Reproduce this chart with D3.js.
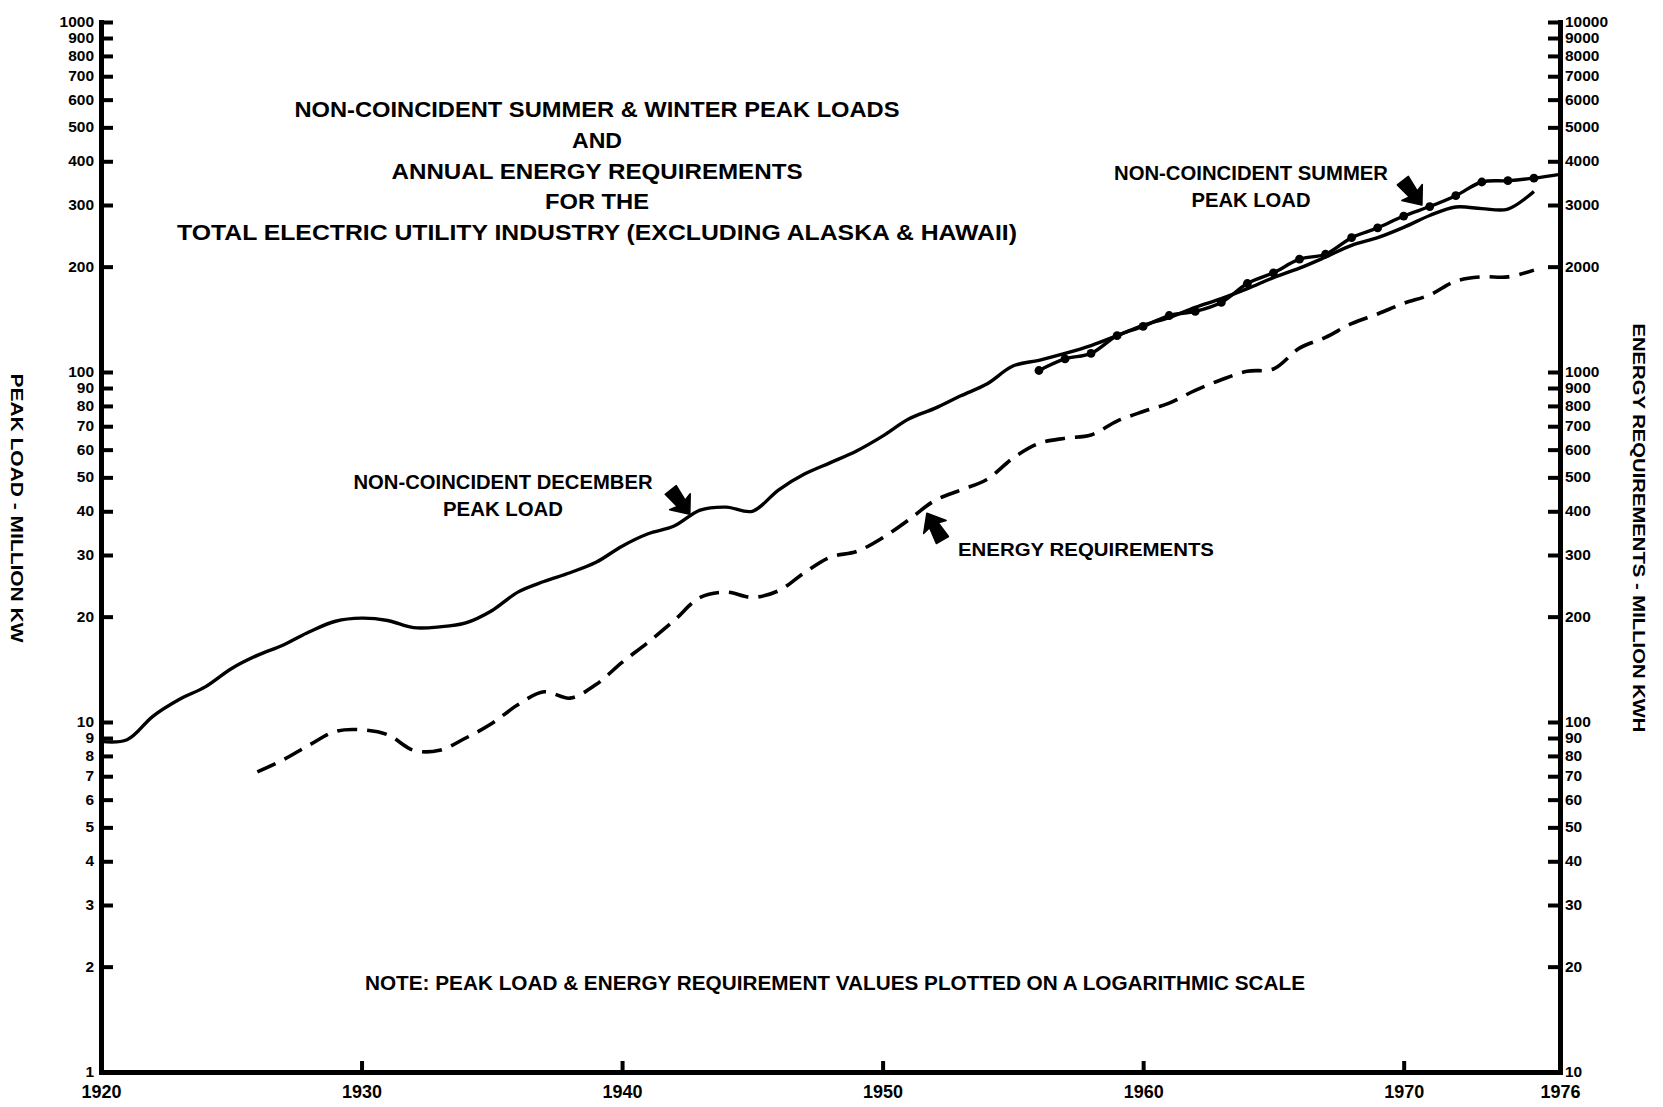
<!DOCTYPE html>
<html>
<head>
<meta charset="utf-8">
<script src="https://cdn.jsdelivr.net/npm/d3@7"></script>
<style>
  body { margin: 0; background: #fff; }
  svg text { font-family: "Liberation Sans", Arial, Helvetica, sans-serif; font-weight: bold; fill: #000; }
</style>
</head>
<body>
<svg id="chart" width="1663" height="1107"></svg>
<script>
// Non-coincident December peak load, million kW (left scale)
const decemberYears = [1920,1921,1922,1923,1924,1925,1926,1927,1928,1929,1930,1931,1932,1933,1934,1935,1936,1937,1938,1939,
  1940,1941,1942,1943,1944,1945,1946,1947,1948,1949,1950,1951,1952,1953,1954,1955,1956,1957,1958,1959,
  1960,1961,1962,1963,1964,1965,1966,1967,1968,1969,1970,1971,1972,1973,1974,1975];
const decemberPeak = [8.8,8.9,10.4,11.6,12.6,14.2,15.5,16.6,18.1,19.4,19.8,19.5,18.6,18.7,19.2,20.8,23.5,25.2,26.7,28.6,
  31.8,34.5,36.3,40.3,41.1,40.0,46.0,51.1,55.1,59.5,65.6,73.4,78.7,85.5,92.4,104,108,113,119,127,
  136,143,153,162,173,186,198,213,230,242,259,280,296,293,292,328];

// Non-coincident summer peak load, million kW (left scale), plotted with yearly dots
const summerYears = [1956,1957,1958,1959,1960,1961,1962,1963,1964,1965,1966,1967,1968,1969,1970,1971,1972,1973,1974,1975,1976];
const summerPeak = [101,109,113,127,135,145,149,158,179,192,210,217,242,258,279,297,319,349,352,358,367];

// Annual energy requirements (right scale)
const energyYears = [1926,1927,1928,1929,1930,1931,1932,1933,1934,1935,1936,1937,1938,1939,
  1940,1941,1942,1943,1944,1945,1946,1947,1948,1949,1950,1951,1952,1953,1954,1955,1956,1957,1958,1959,
  1960,1961,1962,1963,1964,1965,1966,1967,1968,1969,1970,1971,1972,1973,1974,1975];
const energyReq = [72,78,86,94,95,92,83,83,90,99,112,122,117,128,
  148,169,195,227,235,227,237,267,296,307,336,378,429,460,493,567,625,647,661,724,
  771,815,886,950,1005,1020,1170,1256,1375,1465,1571,1661,1818,1870,1870,1955];

// Axis tick values and labels
const xTickYears = [1920,1930,1940,1950,1960,1970,1976];
const leftTicks = [1,2,3,4,5,6,7,8,9,10,20,30,40,50,60,70,80,90,100,200,300,400,500,600,700,800,900,1000];
const rightTicks = [10,20,30,40,50,60,70,80,90,100,200,300,400,500,600,700,800,900,1000,2000,3000,4000,5000,6000,7000,8000,9000,10000];

const titleLines = [
  "NON-COINCIDENT SUMMER & WINTER PEAK LOADS",
  "AND",
  "ANNUAL ENERGY REQUIREMENTS",
  "FOR THE",
  "TOTAL ELECTRIC UTILITY INDUSTRY (EXCLUDING ALASKA & HAWAII)"
];
const titleWidths = [605, 50, 411, 104, 840];

const svg = d3.select("#chart");

const x = d3.scaleLinear().domain([1920, 1976]).range([101, 1560]);
const yL = d3.scaleLog().domain([1, 1000]).range([1072, 22]);
const yR = d3.scaleLog().domain([10, 10000]).range([1072, 22]);

// ---- axes ----
const fmt = d3.format("d");
const leftAxis = svg.append("g").attr("transform", `translate(${x(1920)},0)`)
  .call(d3.axisLeft(yL).tickValues(leftTicks).tickFormat(fmt).tickSizeInner(-12).tickSizeOuter(0).tickPadding(7));
const rightAxis = svg.append("g").attr("transform", `translate(${x(1976)},0)`)
  .call(d3.axisRight(yR).tickValues(rightTicks).tickFormat(fmt).tickSizeInner(-12).tickSizeOuter(0).tickPadding(5));
const bottomAxis = svg.append("g").attr("transform", `translate(0,${yL(1)})`)
  .call(d3.axisBottom(x).tickValues(xTickYears).tickFormat(fmt).tickSizeInner(-11).tickSizeOuter(0).tickPadding(13));

[leftAxis, rightAxis, bottomAxis].forEach(g => {
  g.select(".domain").attr("stroke", "#000").attr("stroke-width", 5).attr("stroke-linecap", "square");
  g.selectAll(".tick line").attr("stroke", "#000").attr("stroke-width", 4);
  g.selectAll(".tick text").attr("font-family", null).attr("font-size", 14)
    .attr("textLength", d => String(d).length * 8.6).attr("lengthAdjust", "spacingAndGlyphs");
});
bottomAxis.selectAll(".tick text").attr("font-size", 19).attr("textLength", 40);
// the corner ticks sit on the vertical axes
bottomAxis.selectAll(".tick").filter(d => d === 1920 || d === 1976).select("line").remove();
leftAxis.selectAll(".tick").filter(d => d === 1).select("line").remove();
rightAxis.selectAll(".tick").filter(d => d === 10).select("line").remove();

// ---- series ----
const lineL = d3.line().x(d => x(d[0])).y(d => yL(d[1])).curve(d3.curveCatmullRom.alpha(0.5));
const lineR = d3.line().x(d => x(d[0])).y(d => yR(d[1])).curve(d3.curveCatmullRom.alpha(0.5));

const dec = d3.zip(decemberYears, decemberPeak);
const sum = d3.zip(summerYears, summerPeak);
const ene = d3.zip(energyYears, energyReq);

svg.append("path").datum(ene).attr("d", lineR)
  .attr("fill", "none").attr("stroke", "#000").attr("stroke-width", 3.6)
  .attr("stroke-dasharray", "20,10");

svg.append("path").datum(dec).attr("d", lineL)
  .attr("fill", "none").attr("stroke", "#000").attr("stroke-width", 3.4).attr("stroke-linejoin", "round");

svg.append("path").datum(sum).attr("d", lineL)
  .attr("fill", "none").attr("stroke", "#000").attr("stroke-width", 3.4).attr("stroke-linejoin", "round");

svg.append("g").selectAll("circle").data(sum.filter(d => d[0] < 1976)).join("circle")
  .attr("cx", d => x(d[0])).attr("cy", d => yL(d[1])).attr("r", 4.4).attr("fill", "#000");

// ---- text ----
const title = svg.append("g");
titleLines.forEach((t, i) => {
  title.append("text").attr("x", 597).attr("y", 117 + i * 30.8)
    .attr("text-anchor", "middle").attr("font-size", 22)
    .attr("textLength", titleWidths[i]).attr("lengthAdjust", "spacingAndGlyphs").text(t);
});

function label(lines, cx, y0, widths, size) {
  lines.forEach((t, i) => {
    svg.append("text").attr("x", cx).attr("y", y0 + i * 27).attr("text-anchor", "middle")
      .attr("font-size", size).attr("textLength", widths[i]).attr("lengthAdjust", "spacingAndGlyphs").text(t);
  });
}
label(["NON-COINCIDENT SUMMER", "PEAK LOAD"], 1251, 180, [274, 119], 19.5);
label(["NON-COINCIDENT DECEMBER", "PEAK LOAD"], 503, 489, [299, 120], 19.5);
svg.append("text").attr("x", 958).attr("y", 556).attr("font-size", 19)
  .attr("textLength", 256).attr("lengthAdjust", "spacingAndGlyphs").text("ENERGY REQUIREMENTS");
svg.append("text").attr("x", 835).attr("y", 990).attr("text-anchor", "middle").attr("font-size", 19.5)
  .attr("textLength", 940).attr("lengthAdjust", "spacingAndGlyphs")
  .text("NOTE:  PEAK LOAD & ENERGY REQUIREMENT VALUES PLOTTED ON A LOGARITHMIC SCALE");

svg.append("text").attr("transform", "translate(11,508) rotate(90)").attr("text-anchor", "middle")
  .attr("font-size", 17).attr("textLength", 269).attr("lengthAdjust", "spacingAndGlyphs")
  .text("PEAK LOAD - MILLION KW");
svg.append("text").attr("transform", "translate(1633,528) rotate(90)").attr("text-anchor", "middle")
  .attr("font-size", 17).attr("textLength", 409).attr("lengthAdjust", "spacingAndGlyphs")
  .text("ENERGY REQUIREMENTS - MILLION KWH");

// ---- pointer arrows (tip placed on the curve they name) ----
const arrowShape = "M0,0 L-16,-13 L-14,-5 L-31,-7 L-31,7 L-14,5 L-16,13 Z";
function arrow(px, py, angle) {
  svg.append("path").attr("d", arrowShape)
    .attr("transform", `translate(${px},${py}) rotate(${angle})`)
    .attr("fill", "#000").attr("stroke", "#000").attr("stroke-width", 1.5).attr("stroke-linejoin", "round");
}
arrow(x(1970.7), yL(300), 52);
arrow(x(1942.6), yL(39.2), 52);
arrow(x(1951.7), yR(395), 240);
</script>
</body>
</html>
